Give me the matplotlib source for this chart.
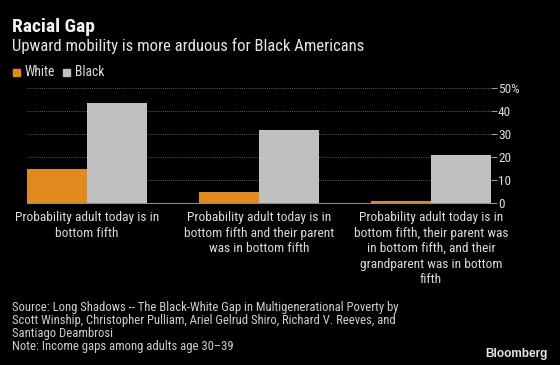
import matplotlib
matplotlib.use("Agg")
import matplotlib.pyplot as plt
from matplotlib import font_manager
import numpy as np

# data
categories = [
    "Probability adult today is in\nbottom fifth",
    "Probability adult today is in\nbottom fifth and their parent\nwas in bottom fifth",
    "Probability adult today is in\nbottom fifth, their parent was\nin bottom fifth, and their\ngrandparent was in bottom\nfifth",
]
white = [14.8, 4.8, 1.0]
black = [43.5, 31.7, 20.9]
yticks = [0, 10, 20, 30, 40, 50]
ytick_labels = ["0", "10", "20", "30", "40", "50%"]

# narrow font if available
names = {f.name for f in font_manager.fontManager.ttflist}
font = "DejaVu Sans"
for cand in ["Liberation Sans Narrow", "DejaVu Sans Condensed", "Roboto Condensed"]:
    if cand in names:
        font = cand
        break
plt.rcParams["font.family"] = [font, "DejaVu Sans"]

bg = "#000000"
orange = "#e08a1e"
grey = "#c0c0c0"
txt = "#dcdcdc"

fig = plt.figure(figsize=(5.6, 3.65), dpi=100, facecolor=bg)
ax = fig.add_axes([27 / 560, 1 - 203 / 365, 464 / 560, 115 / 365], facecolor=bg)

x = np.arange(len(categories))
w = 0.35
ax.bar(x - w / 2, white, w, color=orange, zorder=3)
ax.bar(x + w / 2, black, w, color=grey, zorder=3)

ax.set_xlim(-0.35, 2.35)
ax.set_ylim(0, 50)
ax.yaxis.tick_right()
ax.set_yticks(yticks)
ax.set_yticklabels(ytick_labels)
ax.tick_params(axis="y", colors="#9a9a9a", labelcolor=txt, labelsize=9.5, length=4, pad=1)
ax.set_xticks(x)
ax.set_xticklabels(categories, color=txt, fontsize=9.6, linespacing=1.24)
ax.tick_params(axis="x", length=0, pad=6)
for s in ["top", "left", "right"]:
    ax.spines[s].set_visible(False)
ax.spines["bottom"].set_color("#8a8a8a")
ax.yaxis.grid(True, color="#7a7a7a", linestyle=(0, (1, 1.5)), linewidth=0.6, zorder=0)

fig.text(12 / 560, 1 - 27 / 365, "Racial Gap", color="#f2f2f2", fontsize=14,
         fontweight="bold", va="center")
fig.text(12 / 560, 1 - 46 / 365, "Upward mobility is more arduous for Black Americans",
         color="#e6e6e6", fontsize=12, va="center")

# legend
fig.patches.append(plt.Rectangle((13 / 560, 1 - 76 / 365), 7 / 560, 7 / 365,
                                 transform=fig.transFigure, color=orange))
fig.text(25 / 560, 1 - 72.5 / 365, "White", color=txt, fontsize=9.8, va="center")
fig.patches.append(plt.Rectangle((63 / 560, 1 - 76 / 365), 7 / 560, 7 / 365,
                                 transform=fig.transFigure, color=grey))
fig.text(75 / 560, 1 - 72.5 / 365, "Black", color=txt, fontsize=9.8, va="center")

fig.text(12 / 560, 1 - 353 / 365,
         "Source: Long Shadows -- The Black-White Gap in Multigenerational Poverty by\n"
         "Scott Winship, Christopher Pulliam, Ariel Gelrud Shiro, Richard V. Reeves, and\n"
         "Santiago Deambrosi\n"
         "Note: Income gaps among adults age 30\u201339",
         color="#cfcfcf", fontsize=9.1, va="bottom", linespacing=1.0)
fig.text(548 / 560, 1 - 354 / 365, "Bloomberg", color="#e6e6e6", fontsize=8.5,
         fontweight="bold", ha="right", va="center", family=["Liberation Sans", "DejaVu Sans"])

fig.savefig("out.png", dpi=100, facecolor=bg)
